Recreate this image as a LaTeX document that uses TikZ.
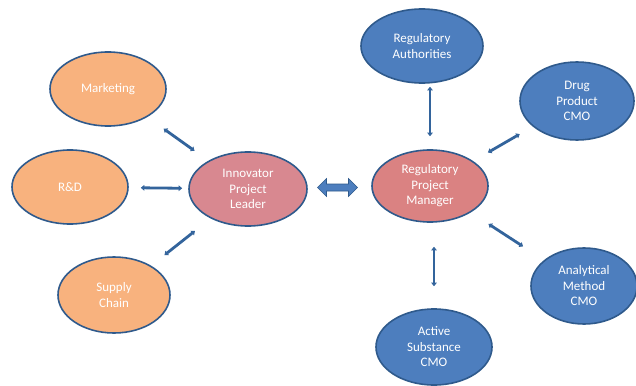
\documentclass[tikz,border=0pt]{standalone}
\usepackage{fontspec}
\setmainfont{Carlito}
\usetikzlibrary{shapes.geometric,arrows.meta,calc}
\definecolor{orangefill}{HTML}{F8B27E}
\definecolor{pinkfill}{HTML}{D88890}
\definecolor{rosefill}{HTML}{DA8282}
\definecolor{bluefill}{HTML}{4D7EBE}
\definecolor{rimblue}{HTML}{2F5A8C}
\definecolor{linkblue}{HTML}{33649C}
\tikzset{
  bubble/.style={ellipse, draw=rimblue, line width=1.6pt, inner sep=0pt,
    text=white, align=center, font=\fontsize{13}{15.5}\selectfont},
  sidebubble/.style={bubble, fill=orangefill, minimum width=116pt, minimum height=74pt},
  cmobubble/.style={bubble, fill=bluefill},
  conn/.style={line width=2.8pt, draw=linkblue,
    {Triangle[length=3.5pt,width=5.5pt]}-{Triangle[length=3.5pt,width=5.5pt]}},
  bigarrow/.style={fill=bluefill, draw=rimblue, line width=0.6pt, line join=miter}
}
\begin{document}
\begin{tikzpicture}[x=1pt,y=-1pt]
\useasboundingbox (0,0) rectangle (636,385);
\fill[white] (0,0) rectangle (636,385);

% left group
\node[sidebubble] (mkt) at (108,89) {Marketing};
\node[sidebubble] (rnd) at (70,187) {R\&D};
\node[sidebubble, minimum width=112pt, minimum height=76pt] (sup) at (114,295) {Supply\\Chain};
\node[bubble, fill=pinkfill, minimum width=118pt, minimum height=74pt] (inn) at (248,189) {Innovator\\Project\\Leader};

% right group
\node[bubble, fill=rosefill, minimum width=116pt, minimum height=72pt] (rpm) at (430,186) {Regulatory\\Project\\Manager};
\node[cmobubble, minimum width=122pt, minimum height=74pt] (ra) at (422,46) {Regulatory\\Authorities};
\node[cmobubble, minimum width=114pt, minimum height=78pt] (dp) at (577,101) {Drug\\Product\\CMO};
\node[cmobubble, minimum width=106pt, minimum height=76pt] (am) at (584,286) {Analytical\\Method\\CMO};
\node[cmobubble, minimum width=116pt, minimum height=76pt] (as) at (434,347) {Active\\Substance\\CMO};

% links of the innovator
\draw[conn, shorten <=20pt, shorten >=17pt] (mkt) -- (inn);
\draw[conn, shorten <=12pt, shorten >=6pt] (rnd) -- (inn);
\draw[conn, shorten <=17pt, shorten >=20pt] (sup) -- (inn);

% links of the regulatory manager
\draw[conn, shorten <=3pt, shorten >=13pt] (ra.south -| rpm) -- (rpm.north);
\draw[conn, shorten <=17pt, shorten >=15pt] (rpm) -- (dp);
\draw[conn, shorten <=21pt, shorten >=25pt] (rpm) -- (am);
\draw[conn, shorten <=24pt, shorten >=22pt] (rpm.south -| as) -- (as.north);

% block double arrow between the two leads
\coordinate (mid) at ($(inn.east)!0.5!(rpm.west)+(-2,0)$);
\draw[bigarrow] ($(mid)+(-20,0)$) -- ++(9,-9) -- ++(0,5.5) -- ++(22,0) -- ++(0,-5.5)
  -- ++(9,9) -- ++(-9,9) -- ++(0,-5.5) -- ++(-22,0) -- ++(0,5.5) -- cycle;
\end{tikzpicture}
\end{document}
